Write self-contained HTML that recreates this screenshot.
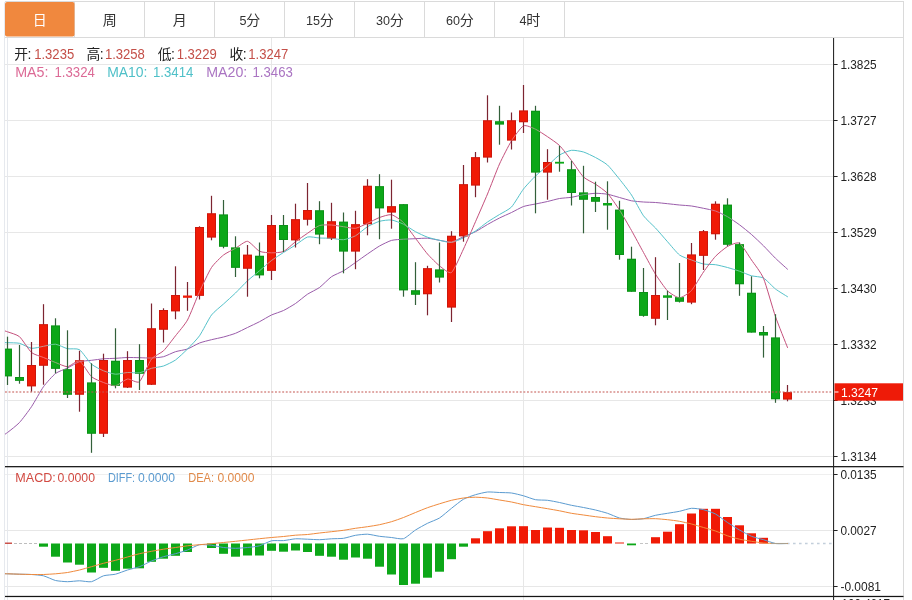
<!DOCTYPE html>
<html><head><meta charset="utf-8"><title>chart</title>
<style>html,body{margin:0;padding:0;background:#fff;}body{width:912px;height:600px;overflow:hidden;font-family:"Liberation Sans",sans-serif;}svg{display:block;will-change:transform}text{font-family:"Liberation Sans","Noto Sans CJK SC",sans-serif;}</style>
</head><body>
<svg width="912" height="600" viewBox="0 0 912 600">
<rect x="0" y="0" width="912" height="600" fill="#ffffff"/>
<g shape-rendering="crispEdges" stroke="#dadada" stroke-width="1" fill="none">
<path d="M4.5 1.5H903.5V600"/>
<path d="M4.5 600V1.5" stroke="#e6e9ee"/>
<path d="M4.5 37.5H903.5"/>
<path d="M74.5 1.5V37.5"/>
<path d="M144.5 1.5V37.5"/>
<path d="M214.5 1.5V37.5"/>
<path d="M284.5 1.5V37.5"/>
<path d="M354.5 1.5V37.5"/>
<path d="M424.5 1.5V37.5"/>
<path d="M494.5 1.5V37.5"/>
<path d="M564.5 1.5V37.5"/>
</g>
<rect x="5" y="2" width="69.5" height="34.6" rx="2" fill="#f0883e"/>
<text x="32.7" y="24.8" font-size="14" fill="#ffffff">日</text>
<text x="102.7" y="24.8" font-size="14" fill="#333333">周</text>
<text x="172.7" y="24.8" font-size="14" fill="#333333">月</text>
<text x="239.5" y="25" font-size="13" fill="#333333" textLength="7" lengthAdjust="spacingAndGlyphs">5</text>
<text x="246.2" y="24.8" font-size="14" fill="#333333">分</text>
<text x="306" y="25" font-size="13" fill="#333333" textLength="14" lengthAdjust="spacingAndGlyphs">15</text>
<text x="319.7" y="24.8" font-size="14" fill="#333333">分</text>
<text x="376" y="25" font-size="13" fill="#333333" textLength="14" lengthAdjust="spacingAndGlyphs">30</text>
<text x="389.7" y="24.8" font-size="14" fill="#333333">分</text>
<text x="446" y="25" font-size="13" fill="#333333" textLength="14" lengthAdjust="spacingAndGlyphs">60</text>
<text x="459.7" y="24.8" font-size="14" fill="#333333">分</text>
<text x="519.5" y="25" font-size="13" fill="#333333" textLength="7" lengthAdjust="spacingAndGlyphs">4</text>
<text x="526.2" y="24.8" font-size="14" fill="#333333">时</text>
<g shape-rendering="crispEdges" stroke="#e7e7e7" stroke-width="1" fill="none">
<path d="M5 64.5H833"/>
<path d="M5 120.5H833"/>
<path d="M5 176.5H833"/>
<path d="M5 232.5H833"/>
<path d="M5 288.5H833"/>
<path d="M5 344.5H833"/>
<path d="M5 400.5H833"/>
<path d="M5 456.5H833"/>
<path d="M5 530.5H833"/>
<path d="M5 586.5H833"/>
<path d="M5 474.5H833" stroke="#efefef"/>
<path d="M271.5 38V600"/>
<path d="M523.5 38V600"/>
<path d="M7.5 38V600" stroke="#e6e9ee"/>
</g>
<defs><clipPath id="cp"><rect x="5" y="38" width="828" height="559"/></clipPath></defs>
<g clip-path="url(#cp)">
<path d="M-4.5 440.5C-3.3 439.7 5.1 434.3 7.5 432.5C9.9 430.7 17.1 425.08 19.5 422.5C21.9 419.92 29.1 410.28 31.5 406.7C33.9 403.12 41.1 390.02 43.5 386.7C45.9 383.38 53.1 375.37 55.5 373.5C57.9 371.63 65.1 369.18 67.5 368C69.9 366.82 77.1 362.47 79.5 361.7C81.9 360.93 89.1 360.59 91.5 360.3C93.9 360.01 101.1 359 103.5 358.8C105.9 358.6 113.1 358.43 115.5 358.3C117.9 358.17 125.1 357.56 127.5 357.5C129.9 357.44 137.1 357.65 139.5 357.7C141.9 357.75 149.1 358.1 151.5 358C153.9 357.9 161.1 357.33 163.5 356.7C165.9 356.07 173.1 352.47 175.5 351.7C177.9 350.93 185.1 349.87 187.5 349C189.9 348.13 197.1 343.93 199.5 343C201.9 342.07 209.1 340.3 211.5 339.7C213.9 339.1 221.1 337.64 223.5 337C225.9 336.36 233.1 334.25 235.5 333.3C237.9 332.35 245.1 328.66 247.5 327.5C249.9 326.34 257.1 322.95 259.5 321.7C261.9 320.45 269.1 316.12 271.5 315C273.9 313.88 281.1 311.65 283.5 310.5C285.9 309.35 293.1 305.13 295.5 303.5C297.9 301.87 305.1 295.8 307.5 294.2C309.9 292.6 317.1 289.25 319.5 287.5C321.9 285.75 329.1 278.37 331.5 276.7C333.9 275.03 341.1 272.22 343.5 270.8C345.9 269.38 353.1 264.18 355.5 262.5C357.9 260.82 365.1 255.65 367.5 254C369.9 252.35 377.1 247.36 379.5 246C381.9 244.64 389.1 241.08 391.5 240.4C393.9 239.72 401.1 239.37 403.5 239.2C405.9 239.03 413.1 238.8 415.5 238.7C417.9 238.6 425.1 238.04 427.5 238.2C429.9 238.36 437.1 239.92 439.5 240.3C441.9 240.68 449.1 242.36 451.5 242C453.9 241.64 461.1 237.73 463.5 236.7C465.9 235.67 473.1 232.92 475.5 231.7C477.9 230.48 485.1 225.87 487.5 224.5C489.9 223.13 497.1 219.2 499.5 218C501.9 216.8 509.1 213.65 511.5 212.5C513.9 211.35 521.1 207.35 523.5 206.5C525.9 205.65 533.1 204.5 535.5 204C537.9 203.5 545.1 202.05 547.5 201.5C549.9 200.95 557.1 198.92 559.5 198.5C561.9 198.08 569.1 197.68 571.5 197.3C573.9 196.92 581.1 195.1 583.5 194.7C585.9 194.3 593.1 193.35 595.5 193.3C597.9 193.25 605.1 193.78 607.5 194.2C609.9 194.62 617.1 196.84 619.5 197.5C621.9 198.16 629.1 200.35 631.5 200.8C633.9 201.25 641.1 201.83 643.5 202C645.9 202.17 653.1 202.33 655.5 202.5C657.9 202.67 665.1 203.45 667.5 203.7C669.9 203.95 677.1 204.77 679.5 205C681.9 205.23 689.1 205.67 691.5 206C693.9 206.33 701.1 207.8 703.5 208.3C705.9 208.8 713.1 210.16 715.5 211C717.9 211.84 725.1 215.32 727.5 216.7C729.9 218.08 737.1 223.02 739.5 224.8C741.9 226.58 749.1 232.4 751.5 234.5C753.9 236.6 761.1 243.42 763.5 245.8C765.9 248.18 773.1 255.96 775.5 258.3C777.9 260.64 786.3 268.11 787.5 269.2" fill="none" stroke="#9a5caa" stroke-width="1.0" stroke-linejoin="round" stroke-linecap="round"/>
<path d="M-4.5 342.22C-3.3 342.27 5.1 342.59 7.5 342.7C9.9 342.81 17.1 342.74 19.5 343.3C21.9 343.86 29.1 348 31.5 348.3C33.9 348.6 41.1 346.71 43.5 346.3C45.9 345.89 53.1 343.96 55.5 344.2C57.9 344.44 65.1 348.15 67.5 348.7C69.9 349.25 77.1 348.15 79.5 349.7C81.9 351.25 89.1 362.09 91.5 364.2C93.9 366.31 101.1 369.8 103.5 370.8C105.9 371.8 113.1 374.03 115.5 374.2C117.9 374.37 125.1 372.64 127.5 372.5C129.9 372.36 137.1 373.22 139.5 372.8C141.9 372.38 149.1 368.98 151.5 368.3C153.9 367.62 161.1 366.83 163.5 366C165.9 365.17 173.1 361.7 175.5 360C177.9 358.3 185.1 351.42 187.5 349C189.9 346.58 197.1 339.2 199.5 335.8C201.9 332.4 209.1 318.18 211.5 315C213.9 311.82 221.1 306.2 223.5 304C225.9 301.8 233.1 295.32 235.5 293C237.9 290.68 245.1 283.02 247.5 280.8C249.9 278.58 257.1 272.83 259.5 270.8C261.9 268.77 269.1 262.33 271.5 260.5C273.9 258.67 281.1 254.05 283.5 252.5C285.9 250.95 293.1 246.55 295.5 245C297.9 243.45 305.1 237.7 307.5 237C309.9 236.3 317.1 237.87 319.5 238C321.9 238.13 329.1 238.13 331.5 238.3C333.9 238.47 341.1 239.95 343.5 239.7C345.9 239.45 353.1 237.1 355.5 235.8C357.9 234.5 365.1 228.15 367.5 226.7C369.9 225.25 377.1 221.97 379.5 221.3C381.9 220.63 389.1 219.71 391.5 220C393.9 220.29 401.1 223.03 403.5 224.2C405.9 225.37 413.1 230.4 415.5 231.7C417.9 233 425.1 236.34 427.5 237.2C429.9 238.06 437.1 239.77 439.5 240.3C441.9 240.83 449.1 242.75 451.5 242.5C453.9 242.25 461.1 238.95 463.5 237.8C465.9 236.65 473.1 232.58 475.5 231C477.9 229.42 485.1 223.65 487.5 222C489.9 220.35 497.1 216 499.5 214.5C501.9 213 509.1 209.55 511.5 207C513.9 204.45 521.1 192.1 523.5 189C525.9 185.9 533.1 178.32 535.5 176C537.9 173.68 545.1 167.9 547.5 165.8C549.9 163.7 557.1 156.55 559.5 155C561.9 153.45 569.1 150.6 571.5 150.3C573.9 150 581.1 151.28 583.5 152C585.9 152.72 593.1 156.2 595.5 157.5C597.9 158.8 605.1 162.83 607.5 165C609.9 167.17 617.1 176.2 619.5 179.2C621.9 182.2 629.1 191.34 631.5 195C633.9 198.66 641.1 212.5 643.5 215.8C645.9 219.1 653.1 225.41 655.5 228C657.9 230.59 665.1 239 667.5 241.7C669.9 244.4 677.1 253.17 679.5 255C681.9 256.83 689.1 259.1 691.5 260C693.9 260.9 701.1 263.53 703.5 264C705.9 264.47 713.1 264.35 715.5 264.7C717.9 265.05 725.1 266.85 727.5 267.5C729.9 268.15 737.1 270.37 739.5 271.2C741.9 272.03 749.1 275.12 751.5 275.8C753.9 276.48 761.1 276.68 763.5 278C765.9 279.32 773.1 287.13 775.5 289C777.9 290.87 786.3 295.93 787.5 296.7" fill="none" stroke="#55c2ca" stroke-width="1.0" stroke-linejoin="round" stroke-linecap="round"/>
<path d="M-4.5 327.88C-3.3 328.27 5.1 330.92 7.5 331.8C9.9 332.68 17.1 334.63 19.5 336.7C21.9 338.77 29.1 350.42 31.5 352.5C33.9 354.58 41.1 356.5 43.5 357.5C45.9 358.5 53.1 361.58 55.5 362.5C57.9 363.42 65.1 366.85 67.5 366.7C69.9 366.55 77.1 360 79.5 361C81.9 362 89.1 374.55 91.5 376.7C93.9 378.85 101.1 381.59 103.5 382.5C105.9 383.41 113.1 386.15 115.5 385.8C117.9 385.45 125.1 379.41 127.5 379C129.9 378.59 137.1 383.7 139.5 381.7C141.9 379.7 149.1 362.09 151.5 359C153.9 355.91 161.1 353.12 163.5 350.8C165.9 348.48 173.1 338.88 175.5 335.8C177.9 332.72 185.1 324.41 187.5 320C189.9 315.59 197.1 296.95 199.5 291.7C201.9 286.45 209.1 271.17 211.5 267.5C213.9 263.83 221.1 256.92 223.5 255C225.9 253.08 233.1 249.67 235.5 248.3C237.9 246.93 245.1 241 247.5 241.3C249.9 241.6 257.1 250.15 259.5 251.3C261.9 252.45 269.1 252.78 271.5 252.8C273.9 252.82 281.1 252.61 283.5 251.5C285.9 250.39 293.1 243.52 295.5 241.7C297.9 239.88 305.1 234.92 307.5 233.3C309.9 231.68 317.1 226.33 319.5 225.5C321.9 224.67 329.1 224.88 331.5 225C333.9 225.12 341.1 226.37 343.5 226.7C345.9 227.03 353.1 228.64 355.5 228.3C357.9 227.96 365.1 224.38 367.5 223.3C369.9 222.22 377.1 218.36 379.5 217.5C381.9 216.64 389.1 214.2 391.5 214.7C393.9 215.2 401.1 220.14 403.5 222.5C405.9 224.86 413.1 235.15 415.5 238.3C417.9 241.45 425.1 251.25 427.5 254C429.9 256.75 437.1 263.95 439.5 265.8C441.9 267.65 449.1 274.18 451.5 272.5C453.9 270.82 461.1 254.08 463.5 249C465.9 243.92 473.1 227.2 475.5 221.7C477.9 216.2 485.1 199.77 487.5 194C489.9 188.23 497.1 169.32 499.5 164C501.9 158.68 509.1 144.62 511.5 140.8C513.9 136.98 521.1 126.96 523.5 125.8C525.9 124.64 533.1 128.11 535.5 129.2C537.9 130.29 545.1 135.07 547.5 136.7C549.9 138.33 557.1 143.12 559.5 145.5C561.9 147.88 569.1 157.35 571.5 160.5C573.9 163.65 581.1 174.63 583.5 177C585.9 179.37 593.1 182.57 595.5 184.2C597.9 185.83 605.1 190.72 607.5 193.3C609.9 195.88 617.1 206.28 619.5 210C621.9 213.72 629.1 226.25 631.5 230.5C633.9 234.75 641.1 248.13 643.5 252.5C645.9 256.87 653.1 270.37 655.5 274.2C657.9 278.03 665.1 288.44 667.5 290.8C669.9 293.16 677.1 297.83 679.5 297.8C681.9 297.77 689.1 293.08 691.5 290.5C693.9 287.92 701.1 275.42 703.5 272C705.9 268.58 713.1 258.85 715.5 256.3C717.9 253.75 725.1 247.81 727.5 246.5C729.9 245.19 737.1 241.85 739.5 243.2C741.9 244.55 749.1 256.49 751.5 260C753.9 263.51 761.1 272.63 763.5 278.3C765.9 283.97 773.1 309.78 775.5 316.7C777.9 323.62 786.3 344.42 787.5 347.5" fill="none" stroke="#c4507c" stroke-width="1.0" stroke-linejoin="round" stroke-linecap="round"/>
<rect x="6.9" y="336.7" width="1.2" height="48.3" fill="#33603a"/>
<rect x="3" y="348.7" width="9" height="27.6" fill="#0ca718"/>
<rect x="3.5" y="349.2" width="8" height="26.6" fill="none" stroke="#0b7f16" stroke-opacity="0.55" stroke-width="1"/>
<rect x="18.9" y="345" width="1.2" height="38.7" fill="#33603a"/>
<rect x="15" y="377" width="9" height="3.8" fill="#0ca718"/>
<rect x="15.5" y="377.5" width="8" height="2.8" fill="none" stroke="#0b7f16" stroke-opacity="0.55" stroke-width="1"/>
<rect x="30.9" y="342" width="1.2" height="49.7" fill="#7c2430"/>
<rect x="27" y="365" width="9" height="21.3" fill="#f01a06"/>
<rect x="27.5" y="365.5" width="8" height="20.3" fill="none" stroke="#b01410" stroke-opacity="0.55" stroke-width="1"/>
<rect x="42.9" y="304.2" width="1.2" height="80.5" fill="#7c2430"/>
<rect x="39" y="324.2" width="9" height="41.5" fill="#f01a06"/>
<rect x="39.5" y="324.7" width="8" height="40.5" fill="none" stroke="#b01410" stroke-opacity="0.55" stroke-width="1"/>
<rect x="54.9" y="318.3" width="1.2" height="55" fill="#33603a"/>
<rect x="51" y="325.5" width="9" height="43.3" fill="#0ca718"/>
<rect x="51.5" y="326" width="8" height="42.3" fill="none" stroke="#0b7f16" stroke-opacity="0.55" stroke-width="1"/>
<rect x="66.9" y="330.3" width="1.2" height="67.7" fill="#33603a"/>
<rect x="63" y="369.2" width="9" height="25.5" fill="#0ca718"/>
<rect x="63.5" y="369.7" width="8" height="24.5" fill="none" stroke="#0b7f16" stroke-opacity="0.55" stroke-width="1"/>
<rect x="78.9" y="350.8" width="1.2" height="60.9" fill="#7c2430"/>
<rect x="75" y="360.3" width="9" height="34.4" fill="#f01a06"/>
<rect x="75.5" y="360.8" width="8" height="33.4" fill="none" stroke="#b01410" stroke-opacity="0.55" stroke-width="1"/>
<rect x="90.9" y="363.3" width="1.2" height="89.5" fill="#33603a"/>
<rect x="87" y="382.5" width="9" height="51.2" fill="#0ca718"/>
<rect x="87.5" y="383" width="8" height="50.2" fill="none" stroke="#0b7f16" stroke-opacity="0.55" stroke-width="1"/>
<rect x="102.9" y="353.7" width="1.2" height="83.3" fill="#7c2430"/>
<rect x="99" y="360" width="9" height="73.7" fill="#f01a06"/>
<rect x="99.5" y="360.5" width="8" height="72.7" fill="none" stroke="#b01410" stroke-opacity="0.55" stroke-width="1"/>
<rect x="114.9" y="328.3" width="1.2" height="60" fill="#33603a"/>
<rect x="111" y="360.8" width="9" height="25" fill="#0ca718"/>
<rect x="111.5" y="361.3" width="8" height="24" fill="none" stroke="#0b7f16" stroke-opacity="0.55" stroke-width="1"/>
<rect x="126.9" y="351.2" width="1.2" height="36.8" fill="#7c2430"/>
<rect x="123" y="360" width="9" height="27.5" fill="#f01a06"/>
<rect x="123.5" y="360.5" width="8" height="26.5" fill="none" stroke="#b01410" stroke-opacity="0.55" stroke-width="1"/>
<rect x="138.9" y="344.2" width="1.2" height="45.8" fill="#33603a"/>
<rect x="135" y="360" width="9" height="13.7" fill="#0ca718"/>
<rect x="135.5" y="360.5" width="8" height="12.7" fill="none" stroke="#0b7f16" stroke-opacity="0.55" stroke-width="1"/>
<rect x="150.9" y="303.5" width="1.2" height="81.5" fill="#7c2430"/>
<rect x="147" y="328.3" width="9" height="56.4" fill="#f01a06"/>
<rect x="147.5" y="328.8" width="8" height="55.4" fill="none" stroke="#b01410" stroke-opacity="0.55" stroke-width="1"/>
<rect x="162.9" y="308.3" width="1.2" height="34.2" fill="#7c2430"/>
<rect x="159" y="310" width="9" height="19.7" fill="#f01a06"/>
<rect x="159.5" y="310.5" width="8" height="18.7" fill="none" stroke="#b01410" stroke-opacity="0.55" stroke-width="1"/>
<rect x="174.9" y="266.3" width="1.2" height="52.9" fill="#7c2430"/>
<rect x="171" y="295" width="9" height="16.3" fill="#f01a06"/>
<rect x="171.5" y="295.5" width="8" height="15.3" fill="none" stroke="#b01410" stroke-opacity="0.55" stroke-width="1"/>
<rect x="186.9" y="282" width="1.2" height="28.8" fill="#7c2430"/>
<rect x="183" y="295.5" width="9" height="2.3" fill="#f01a06"/>
<rect x="198.9" y="226.3" width="1.2" height="73.2" fill="#7c2430"/>
<rect x="195" y="227" width="9" height="68.8" fill="#f01a06"/>
<rect x="195.5" y="227.5" width="8" height="67.8" fill="none" stroke="#b01410" stroke-opacity="0.55" stroke-width="1"/>
<rect x="210.9" y="195.8" width="1.2" height="44.5" fill="#7c2430"/>
<rect x="207" y="213.3" width="9" height="24.2" fill="#f01a06"/>
<rect x="207.5" y="213.8" width="8" height="23.2" fill="none" stroke="#b01410" stroke-opacity="0.55" stroke-width="1"/>
<rect x="222.9" y="200" width="1.2" height="48.3" fill="#33603a"/>
<rect x="219" y="214.5" width="9" height="32.2" fill="#0ca718"/>
<rect x="219.5" y="215" width="8" height="31.2" fill="none" stroke="#0b7f16" stroke-opacity="0.55" stroke-width="1"/>
<rect x="234.9" y="236.3" width="1.2" height="40.7" fill="#33603a"/>
<rect x="231" y="247.5" width="9" height="20.3" fill="#0ca718"/>
<rect x="231.5" y="248" width="8" height="19.3" fill="none" stroke="#0b7f16" stroke-opacity="0.55" stroke-width="1"/>
<rect x="246.9" y="245" width="1.2" height="51.7" fill="#7c2430"/>
<rect x="243" y="254.7" width="9" height="14" fill="#f01a06"/>
<rect x="243.5" y="255.2" width="8" height="13" fill="none" stroke="#b01410" stroke-opacity="0.55" stroke-width="1"/>
<rect x="258.9" y="242.5" width="1.2" height="35.8" fill="#33603a"/>
<rect x="255" y="255.8" width="9" height="19.5" fill="#0ca718"/>
<rect x="255.5" y="256.3" width="8" height="18.5" fill="none" stroke="#0b7f16" stroke-opacity="0.55" stroke-width="1"/>
<rect x="270.9" y="215" width="1.2" height="65" fill="#7c2430"/>
<rect x="267" y="225" width="9" height="45.8" fill="#f01a06"/>
<rect x="267.5" y="225.5" width="8" height="44.8" fill="none" stroke="#b01410" stroke-opacity="0.55" stroke-width="1"/>
<rect x="282.9" y="215" width="1.2" height="37" fill="#33603a"/>
<rect x="279" y="225" width="9" height="15" fill="#0ca718"/>
<rect x="279.5" y="225.5" width="8" height="14" fill="none" stroke="#0b7f16" stroke-opacity="0.55" stroke-width="1"/>
<rect x="294.9" y="203.7" width="1.2" height="43.8" fill="#7c2430"/>
<rect x="291" y="219.2" width="9" height="21.1" fill="#f01a06"/>
<rect x="291.5" y="219.7" width="8" height="20.1" fill="none" stroke="#b01410" stroke-opacity="0.55" stroke-width="1"/>
<rect x="306.9" y="183" width="1.2" height="42.5" fill="#7c2430"/>
<rect x="303" y="210" width="9" height="9.7" fill="#f01a06"/>
<rect x="303.5" y="210.5" width="8" height="8.7" fill="none" stroke="#b01410" stroke-opacity="0.55" stroke-width="1"/>
<rect x="318.9" y="201.2" width="1.2" height="43" fill="#33603a"/>
<rect x="315" y="210.3" width="9" height="24.2" fill="#0ca718"/>
<rect x="315.5" y="210.8" width="8" height="23.2" fill="none" stroke="#0b7f16" stroke-opacity="0.55" stroke-width="1"/>
<rect x="330.9" y="202.8" width="1.2" height="37.2" fill="#7c2430"/>
<rect x="327" y="221.3" width="9" height="17" fill="#f01a06"/>
<rect x="327.5" y="221.8" width="8" height="16" fill="none" stroke="#b01410" stroke-opacity="0.55" stroke-width="1"/>
<rect x="342.9" y="212.5" width="1.2" height="60.8" fill="#33603a"/>
<rect x="339" y="221.7" width="9" height="29.8" fill="#0ca718"/>
<rect x="339.5" y="222.2" width="8" height="28.8" fill="none" stroke="#0b7f16" stroke-opacity="0.55" stroke-width="1"/>
<rect x="354.9" y="210.8" width="1.2" height="58.4" fill="#7c2430"/>
<rect x="351" y="224.2" width="9" height="27.3" fill="#f01a06"/>
<rect x="351.5" y="224.7" width="8" height="26.3" fill="none" stroke="#b01410" stroke-opacity="0.55" stroke-width="1"/>
<rect x="366.9" y="179.2" width="1.2" height="56.1" fill="#7c2430"/>
<rect x="363" y="185.8" width="9" height="38.4" fill="#f01a06"/>
<rect x="363.5" y="186.3" width="8" height="37.4" fill="none" stroke="#b01410" stroke-opacity="0.55" stroke-width="1"/>
<rect x="378.9" y="174.2" width="1.2" height="65" fill="#33603a"/>
<rect x="375" y="186.2" width="9" height="22.1" fill="#0ca718"/>
<rect x="375.5" y="186.7" width="8" height="21.1" fill="none" stroke="#0b7f16" stroke-opacity="0.55" stroke-width="1"/>
<rect x="390.9" y="179.7" width="1.2" height="49" fill="#7c2430"/>
<rect x="387" y="206.2" width="9" height="6.3" fill="#f01a06"/>
<rect x="387.5" y="206.7" width="8" height="5.3" fill="none" stroke="#b01410" stroke-opacity="0.55" stroke-width="1"/>
<rect x="402.9" y="204.2" width="1.2" height="92.5" fill="#33603a"/>
<rect x="399" y="204.2" width="9" height="86.1" fill="#0ca718"/>
<rect x="399.5" y="204.7" width="8" height="85.1" fill="none" stroke="#0b7f16" stroke-opacity="0.55" stroke-width="1"/>
<rect x="414.9" y="262.2" width="1.2" height="42.8" fill="#33603a"/>
<rect x="411" y="290.3" width="9" height="4.4" fill="#0ca718"/>
<rect x="411.5" y="290.8" width="8" height="3.4" fill="none" stroke="#0b7f16" stroke-opacity="0.55" stroke-width="1"/>
<rect x="426.9" y="265.8" width="1.2" height="49.5" fill="#7c2430"/>
<rect x="423" y="268.2" width="9" height="26" fill="#f01a06"/>
<rect x="423.5" y="268.7" width="8" height="25" fill="none" stroke="#b01410" stroke-opacity="0.55" stroke-width="1"/>
<rect x="438.9" y="242.5" width="1.2" height="40" fill="#33603a"/>
<rect x="435" y="269.5" width="9" height="8" fill="#0ca718"/>
<rect x="435.5" y="270" width="8" height="7" fill="none" stroke="#0b7f16" stroke-opacity="0.55" stroke-width="1"/>
<rect x="450.9" y="231.2" width="1.2" height="90.8" fill="#7c2430"/>
<rect x="447" y="235.8" width="9" height="71.7" fill="#f01a06"/>
<rect x="447.5" y="236.3" width="8" height="70.7" fill="none" stroke="#b01410" stroke-opacity="0.55" stroke-width="1"/>
<rect x="462.9" y="165" width="1.2" height="76.7" fill="#7c2430"/>
<rect x="459" y="184.2" width="9" height="52.1" fill="#f01a06"/>
<rect x="459.5" y="184.7" width="8" height="51.1" fill="none" stroke="#b01410" stroke-opacity="0.55" stroke-width="1"/>
<rect x="474.9" y="152" width="1.2" height="45.2" fill="#7c2430"/>
<rect x="471" y="157.2" width="9" height="28.3" fill="#f01a06"/>
<rect x="471.5" y="157.7" width="8" height="27.3" fill="none" stroke="#b01410" stroke-opacity="0.55" stroke-width="1"/>
<rect x="486.9" y="95.3" width="1.2" height="67.2" fill="#7c2430"/>
<rect x="483" y="120.3" width="9" height="37.2" fill="#f01a06"/>
<rect x="483.5" y="120.8" width="8" height="36.2" fill="none" stroke="#b01410" stroke-opacity="0.55" stroke-width="1"/>
<rect x="498.9" y="105.8" width="1.2" height="38.9" fill="#33603a"/>
<rect x="495" y="121.3" width="9" height="3.2" fill="#0ca718"/>
<rect x="495.5" y="121.8" width="8" height="2.2" fill="none" stroke="#0b7f16" stroke-opacity="0.55" stroke-width="1"/>
<rect x="510.9" y="112.5" width="1.2" height="37" fill="#7c2430"/>
<rect x="507" y="120.3" width="9" height="20.2" fill="#f01a06"/>
<rect x="507.5" y="120.8" width="8" height="19.2" fill="none" stroke="#b01410" stroke-opacity="0.55" stroke-width="1"/>
<rect x="522.9" y="85" width="1.2" height="48" fill="#7c2430"/>
<rect x="519" y="110.5" width="9" height="11.7" fill="#f01a06"/>
<rect x="519.5" y="111" width="8" height="10.7" fill="none" stroke="#b01410" stroke-opacity="0.55" stroke-width="1"/>
<rect x="534.9" y="105.8" width="1.2" height="107.5" fill="#33603a"/>
<rect x="531" y="110.8" width="9" height="61.7" fill="#0ca718"/>
<rect x="531.5" y="111.3" width="8" height="60.7" fill="none" stroke="#0b7f16" stroke-opacity="0.55" stroke-width="1"/>
<rect x="546.9" y="149.2" width="1.2" height="50.5" fill="#7c2430"/>
<rect x="543" y="162" width="9" height="10.5" fill="#f01a06"/>
<rect x="543.5" y="162.5" width="8" height="9.5" fill="none" stroke="#b01410" stroke-opacity="0.55" stroke-width="1"/>
<rect x="558.9" y="145.8" width="1.2" height="25.9" fill="#33603a"/>
<rect x="555" y="161.8" width="9" height="1.8" fill="#0ca718"/>
<rect x="570.9" y="160.8" width="1.2" height="44.7" fill="#33603a"/>
<rect x="567" y="169.3" width="9" height="23.7" fill="#0ca718"/>
<rect x="567.5" y="169.8" width="8" height="22.7" fill="none" stroke="#0b7f16" stroke-opacity="0.55" stroke-width="1"/>
<rect x="582.9" y="165.8" width="1.2" height="67.5" fill="#33603a"/>
<rect x="579" y="192.5" width="9" height="7.2" fill="#0ca718"/>
<rect x="579.5" y="193" width="8" height="6.2" fill="none" stroke="#0b7f16" stroke-opacity="0.55" stroke-width="1"/>
<rect x="594.9" y="181.7" width="1.2" height="30.3" fill="#33603a"/>
<rect x="591" y="197" width="9" height="4.7" fill="#0ca718"/>
<rect x="591.5" y="197.5" width="8" height="3.7" fill="none" stroke="#0b7f16" stroke-opacity="0.55" stroke-width="1"/>
<rect x="606.9" y="181.3" width="1.2" height="48.4" fill="#33603a"/>
<rect x="603" y="203" width="9" height="2.5" fill="#0ca718"/>
<rect x="618.9" y="200.8" width="1.2" height="58.9" fill="#33603a"/>
<rect x="615" y="209.7" width="9" height="45.3" fill="#0ca718"/>
<rect x="615.5" y="210.2" width="8" height="44.3" fill="none" stroke="#0b7f16" stroke-opacity="0.55" stroke-width="1"/>
<rect x="630.9" y="246.7" width="1.2" height="45" fill="#33603a"/>
<rect x="627" y="258.8" width="9" height="32.9" fill="#0ca718"/>
<rect x="627.5" y="259.3" width="8" height="31.9" fill="none" stroke="#0b7f16" stroke-opacity="0.55" stroke-width="1"/>
<rect x="642.9" y="268" width="1.2" height="48.7" fill="#33603a"/>
<rect x="639" y="292" width="9" height="23.8" fill="#0ca718"/>
<rect x="639.5" y="292.5" width="8" height="22.8" fill="none" stroke="#0b7f16" stroke-opacity="0.55" stroke-width="1"/>
<rect x="654.9" y="257.2" width="1.2" height="68.1" fill="#7c2430"/>
<rect x="651" y="295" width="9" height="23.7" fill="#f01a06"/>
<rect x="651.5" y="295.5" width="8" height="22.7" fill="none" stroke="#b01410" stroke-opacity="0.55" stroke-width="1"/>
<rect x="666.9" y="290.8" width="1.2" height="29.2" fill="#33603a"/>
<rect x="663" y="295.3" width="9" height="2.5" fill="#0ca718"/>
<rect x="678.9" y="263" width="1.2" height="39.5" fill="#33603a"/>
<rect x="675" y="297.2" width="9" height="4.5" fill="#0ca718"/>
<rect x="675.5" y="297.7" width="8" height="3.5" fill="none" stroke="#0b7f16" stroke-opacity="0.55" stroke-width="1"/>
<rect x="690.9" y="243" width="1.2" height="61.2" fill="#7c2430"/>
<rect x="687" y="254.5" width="9" height="48" fill="#f01a06"/>
<rect x="687.5" y="255" width="8" height="47" fill="none" stroke="#b01410" stroke-opacity="0.55" stroke-width="1"/>
<rect x="702.9" y="230" width="1.2" height="40" fill="#7c2430"/>
<rect x="699" y="231.2" width="9" height="24.6" fill="#f01a06"/>
<rect x="699.5" y="231.7" width="8" height="23.6" fill="none" stroke="#b01410" stroke-opacity="0.55" stroke-width="1"/>
<rect x="714.9" y="201.3" width="1.2" height="38.4" fill="#7c2430"/>
<rect x="711" y="203.8" width="9" height="30.4" fill="#f01a06"/>
<rect x="711.5" y="204.3" width="8" height="29.4" fill="none" stroke="#b01410" stroke-opacity="0.55" stroke-width="1"/>
<rect x="726.9" y="198.3" width="1.2" height="48" fill="#33603a"/>
<rect x="723" y="204.7" width="9" height="40" fill="#0ca718"/>
<rect x="723.5" y="205.2" width="8" height="39" fill="none" stroke="#0b7f16" stroke-opacity="0.55" stroke-width="1"/>
<rect x="738.9" y="242.5" width="1.2" height="53.3" fill="#33603a"/>
<rect x="735" y="244.2" width="9" height="40" fill="#0ca718"/>
<rect x="735.5" y="244.7" width="8" height="39" fill="none" stroke="#0b7f16" stroke-opacity="0.55" stroke-width="1"/>
<rect x="750.9" y="276.3" width="1.2" height="56.2" fill="#33603a"/>
<rect x="747" y="292.8" width="9" height="39.7" fill="#0ca718"/>
<rect x="747.5" y="293.3" width="8" height="38.7" fill="none" stroke="#0b7f16" stroke-opacity="0.55" stroke-width="1"/>
<rect x="762.9" y="326" width="1.2" height="31.6" fill="#33603a"/>
<rect x="759" y="332" width="9" height="3.4" fill="#0ca718"/>
<rect x="759.5" y="332.5" width="8" height="2.4" fill="none" stroke="#0b7f16" stroke-opacity="0.55" stroke-width="1"/>
<rect x="774.9" y="314.2" width="1.2" height="88.6" fill="#33603a"/>
<rect x="771" y="337.5" width="9" height="61.7" fill="#0ca718"/>
<rect x="771.5" y="338" width="8" height="60.7" fill="none" stroke="#0b7f16" stroke-opacity="0.55" stroke-width="1"/>
<rect x="786.9" y="385" width="1.2" height="16.3" fill="#7c2430"/>
<rect x="783" y="392.2" width="9" height="7.3" fill="#f01a06"/>
<rect x="783.5" y="392.7" width="8" height="6.3" fill="none" stroke="#b01410" stroke-opacity="0.55" stroke-width="1"/>
<clipPath id="bd"><rect x="3" y="348.7" width="9" height="27.6"/><rect x="15" y="377" width="9" height="3.8"/><rect x="27" y="365" width="9" height="21.3"/><rect x="39" y="324.2" width="9" height="41.5"/><rect x="51" y="325.5" width="9" height="43.3"/><rect x="63" y="369.2" width="9" height="25.5"/><rect x="75" y="360.3" width="9" height="34.4"/><rect x="87" y="382.5" width="9" height="51.2"/><rect x="99" y="360" width="9" height="73.7"/><rect x="111" y="360.8" width="9" height="25"/><rect x="123" y="360" width="9" height="27.5"/><rect x="135" y="360" width="9" height="13.7"/><rect x="147" y="328.3" width="9" height="56.4"/><rect x="159" y="310" width="9" height="19.7"/><rect x="171" y="295" width="9" height="16.3"/><rect x="183" y="295.5" width="9" height="2.3"/><rect x="195" y="227" width="9" height="68.8"/><rect x="207" y="213.3" width="9" height="24.2"/><rect x="219" y="214.5" width="9" height="32.2"/><rect x="231" y="247.5" width="9" height="20.3"/><rect x="243" y="254.7" width="9" height="14"/><rect x="255" y="255.8" width="9" height="19.5"/><rect x="267" y="225" width="9" height="45.8"/><rect x="279" y="225" width="9" height="15"/><rect x="291" y="219.2" width="9" height="21.1"/><rect x="303" y="210" width="9" height="9.7"/><rect x="315" y="210.3" width="9" height="24.2"/><rect x="327" y="221.3" width="9" height="17"/><rect x="339" y="221.7" width="9" height="29.8"/><rect x="351" y="224.2" width="9" height="27.3"/><rect x="363" y="185.8" width="9" height="38.4"/><rect x="375" y="186.2" width="9" height="22.1"/><rect x="387" y="206.2" width="9" height="6.3"/><rect x="399" y="204.2" width="9" height="86.1"/><rect x="411" y="290.3" width="9" height="4.4"/><rect x="423" y="268.2" width="9" height="26"/><rect x="435" y="269.5" width="9" height="8"/><rect x="447" y="235.8" width="9" height="71.7"/><rect x="459" y="184.2" width="9" height="52.1"/><rect x="471" y="157.2" width="9" height="28.3"/><rect x="483" y="120.3" width="9" height="37.2"/><rect x="495" y="121.3" width="9" height="3.2"/><rect x="507" y="120.3" width="9" height="20.2"/><rect x="519" y="110.5" width="9" height="11.7"/><rect x="531" y="110.8" width="9" height="61.7"/><rect x="543" y="162" width="9" height="10.5"/><rect x="555" y="161.8" width="9" height="1.8"/><rect x="567" y="169.3" width="9" height="23.7"/><rect x="579" y="192.5" width="9" height="7.2"/><rect x="591" y="197" width="9" height="4.7"/><rect x="603" y="203" width="9" height="2.5"/><rect x="615" y="209.7" width="9" height="45.3"/><rect x="627" y="258.8" width="9" height="32.9"/><rect x="639" y="292" width="9" height="23.8"/><rect x="651" y="295" width="9" height="23.7"/><rect x="663" y="295.3" width="9" height="2.5"/><rect x="675" y="297.2" width="9" height="4.5"/><rect x="687" y="254.5" width="9" height="48"/><rect x="699" y="231.2" width="9" height="24.6"/><rect x="711" y="203.8" width="9" height="30.4"/><rect x="723" y="204.7" width="9" height="40"/><rect x="735" y="244.2" width="9" height="40"/><rect x="747" y="292.8" width="9" height="39.7"/><rect x="759" y="332" width="9" height="3.4"/><rect x="771" y="337.5" width="9" height="61.7"/><rect x="783" y="392.2" width="9" height="7.3"/></clipPath>
<g clip-path="url(#bd)" opacity="0.6">
<path d="M-4.5 440.5C-3.3 439.7 5.1 434.3 7.5 432.5C9.9 430.7 17.1 425.08 19.5 422.5C21.9 419.92 29.1 410.28 31.5 406.7C33.9 403.12 41.1 390.02 43.5 386.7C45.9 383.38 53.1 375.37 55.5 373.5C57.9 371.63 65.1 369.18 67.5 368C69.9 366.82 77.1 362.47 79.5 361.7C81.9 360.93 89.1 360.59 91.5 360.3C93.9 360.01 101.1 359 103.5 358.8C105.9 358.6 113.1 358.43 115.5 358.3C117.9 358.17 125.1 357.56 127.5 357.5C129.9 357.44 137.1 357.65 139.5 357.7C141.9 357.75 149.1 358.1 151.5 358C153.9 357.9 161.1 357.33 163.5 356.7C165.9 356.07 173.1 352.47 175.5 351.7C177.9 350.93 185.1 349.87 187.5 349C189.9 348.13 197.1 343.93 199.5 343C201.9 342.07 209.1 340.3 211.5 339.7C213.9 339.1 221.1 337.64 223.5 337C225.9 336.36 233.1 334.25 235.5 333.3C237.9 332.35 245.1 328.66 247.5 327.5C249.9 326.34 257.1 322.95 259.5 321.7C261.9 320.45 269.1 316.12 271.5 315C273.9 313.88 281.1 311.65 283.5 310.5C285.9 309.35 293.1 305.13 295.5 303.5C297.9 301.87 305.1 295.8 307.5 294.2C309.9 292.6 317.1 289.25 319.5 287.5C321.9 285.75 329.1 278.37 331.5 276.7C333.9 275.03 341.1 272.22 343.5 270.8C345.9 269.38 353.1 264.18 355.5 262.5C357.9 260.82 365.1 255.65 367.5 254C369.9 252.35 377.1 247.36 379.5 246C381.9 244.64 389.1 241.08 391.5 240.4C393.9 239.72 401.1 239.37 403.5 239.2C405.9 239.03 413.1 238.8 415.5 238.7C417.9 238.6 425.1 238.04 427.5 238.2C429.9 238.36 437.1 239.92 439.5 240.3C441.9 240.68 449.1 242.36 451.5 242C453.9 241.64 461.1 237.73 463.5 236.7C465.9 235.67 473.1 232.92 475.5 231.7C477.9 230.48 485.1 225.87 487.5 224.5C489.9 223.13 497.1 219.2 499.5 218C501.9 216.8 509.1 213.65 511.5 212.5C513.9 211.35 521.1 207.35 523.5 206.5C525.9 205.65 533.1 204.5 535.5 204C537.9 203.5 545.1 202.05 547.5 201.5C549.9 200.95 557.1 198.92 559.5 198.5C561.9 198.08 569.1 197.68 571.5 197.3C573.9 196.92 581.1 195.1 583.5 194.7C585.9 194.3 593.1 193.35 595.5 193.3C597.9 193.25 605.1 193.78 607.5 194.2C609.9 194.62 617.1 196.84 619.5 197.5C621.9 198.16 629.1 200.35 631.5 200.8C633.9 201.25 641.1 201.83 643.5 202C645.9 202.17 653.1 202.33 655.5 202.5C657.9 202.67 665.1 203.45 667.5 203.7C669.9 203.95 677.1 204.77 679.5 205C681.9 205.23 689.1 205.67 691.5 206C693.9 206.33 701.1 207.8 703.5 208.3C705.9 208.8 713.1 210.16 715.5 211C717.9 211.84 725.1 215.32 727.5 216.7C729.9 218.08 737.1 223.02 739.5 224.8C741.9 226.58 749.1 232.4 751.5 234.5C753.9 236.6 761.1 243.42 763.5 245.8C765.9 248.18 773.1 255.96 775.5 258.3C777.9 260.64 786.3 268.11 787.5 269.2" fill="none" stroke="#c9a6d6" stroke-width="1.0" stroke-linejoin="round" stroke-linecap="round"/>
<path d="M-4.5 342.22C-3.3 342.27 5.1 342.59 7.5 342.7C9.9 342.81 17.1 342.74 19.5 343.3C21.9 343.86 29.1 348 31.5 348.3C33.9 348.6 41.1 346.71 43.5 346.3C45.9 345.89 53.1 343.96 55.5 344.2C57.9 344.44 65.1 348.15 67.5 348.7C69.9 349.25 77.1 348.15 79.5 349.7C81.9 351.25 89.1 362.09 91.5 364.2C93.9 366.31 101.1 369.8 103.5 370.8C105.9 371.8 113.1 374.03 115.5 374.2C117.9 374.37 125.1 372.64 127.5 372.5C129.9 372.36 137.1 373.22 139.5 372.8C141.9 372.38 149.1 368.98 151.5 368.3C153.9 367.62 161.1 366.83 163.5 366C165.9 365.17 173.1 361.7 175.5 360C177.9 358.3 185.1 351.42 187.5 349C189.9 346.58 197.1 339.2 199.5 335.8C201.9 332.4 209.1 318.18 211.5 315C213.9 311.82 221.1 306.2 223.5 304C225.9 301.8 233.1 295.32 235.5 293C237.9 290.68 245.1 283.02 247.5 280.8C249.9 278.58 257.1 272.83 259.5 270.8C261.9 268.77 269.1 262.33 271.5 260.5C273.9 258.67 281.1 254.05 283.5 252.5C285.9 250.95 293.1 246.55 295.5 245C297.9 243.45 305.1 237.7 307.5 237C309.9 236.3 317.1 237.87 319.5 238C321.9 238.13 329.1 238.13 331.5 238.3C333.9 238.47 341.1 239.95 343.5 239.7C345.9 239.45 353.1 237.1 355.5 235.8C357.9 234.5 365.1 228.15 367.5 226.7C369.9 225.25 377.1 221.97 379.5 221.3C381.9 220.63 389.1 219.71 391.5 220C393.9 220.29 401.1 223.03 403.5 224.2C405.9 225.37 413.1 230.4 415.5 231.7C417.9 233 425.1 236.34 427.5 237.2C429.9 238.06 437.1 239.77 439.5 240.3C441.9 240.83 449.1 242.75 451.5 242.5C453.9 242.25 461.1 238.95 463.5 237.8C465.9 236.65 473.1 232.58 475.5 231C477.9 229.42 485.1 223.65 487.5 222C489.9 220.35 497.1 216 499.5 214.5C501.9 213 509.1 209.55 511.5 207C513.9 204.45 521.1 192.1 523.5 189C525.9 185.9 533.1 178.32 535.5 176C537.9 173.68 545.1 167.9 547.5 165.8C549.9 163.7 557.1 156.55 559.5 155C561.9 153.45 569.1 150.6 571.5 150.3C573.9 150 581.1 151.28 583.5 152C585.9 152.72 593.1 156.2 595.5 157.5C597.9 158.8 605.1 162.83 607.5 165C609.9 167.17 617.1 176.2 619.5 179.2C621.9 182.2 629.1 191.34 631.5 195C633.9 198.66 641.1 212.5 643.5 215.8C645.9 219.1 653.1 225.41 655.5 228C657.9 230.59 665.1 239 667.5 241.7C669.9 244.4 677.1 253.17 679.5 255C681.9 256.83 689.1 259.1 691.5 260C693.9 260.9 701.1 263.53 703.5 264C705.9 264.47 713.1 264.35 715.5 264.7C717.9 265.05 725.1 266.85 727.5 267.5C729.9 268.15 737.1 270.37 739.5 271.2C741.9 272.03 749.1 275.12 751.5 275.8C753.9 276.48 761.1 276.68 763.5 278C765.9 279.32 773.1 287.13 775.5 289C777.9 290.87 786.3 295.93 787.5 296.7" fill="none" stroke="#a9e3e8" stroke-width="1.0" stroke-linejoin="round" stroke-linecap="round"/>
<path d="M-4.5 327.88C-3.3 328.27 5.1 330.92 7.5 331.8C9.9 332.68 17.1 334.63 19.5 336.7C21.9 338.77 29.1 350.42 31.5 352.5C33.9 354.58 41.1 356.5 43.5 357.5C45.9 358.5 53.1 361.58 55.5 362.5C57.9 363.42 65.1 366.85 67.5 366.7C69.9 366.55 77.1 360 79.5 361C81.9 362 89.1 374.55 91.5 376.7C93.9 378.85 101.1 381.59 103.5 382.5C105.9 383.41 113.1 386.15 115.5 385.8C117.9 385.45 125.1 379.41 127.5 379C129.9 378.59 137.1 383.7 139.5 381.7C141.9 379.7 149.1 362.09 151.5 359C153.9 355.91 161.1 353.12 163.5 350.8C165.9 348.48 173.1 338.88 175.5 335.8C177.9 332.72 185.1 324.41 187.5 320C189.9 315.59 197.1 296.95 199.5 291.7C201.9 286.45 209.1 271.17 211.5 267.5C213.9 263.83 221.1 256.92 223.5 255C225.9 253.08 233.1 249.67 235.5 248.3C237.9 246.93 245.1 241 247.5 241.3C249.9 241.6 257.1 250.15 259.5 251.3C261.9 252.45 269.1 252.78 271.5 252.8C273.9 252.82 281.1 252.61 283.5 251.5C285.9 250.39 293.1 243.52 295.5 241.7C297.9 239.88 305.1 234.92 307.5 233.3C309.9 231.68 317.1 226.33 319.5 225.5C321.9 224.67 329.1 224.88 331.5 225C333.9 225.12 341.1 226.37 343.5 226.7C345.9 227.03 353.1 228.64 355.5 228.3C357.9 227.96 365.1 224.38 367.5 223.3C369.9 222.22 377.1 218.36 379.5 217.5C381.9 216.64 389.1 214.2 391.5 214.7C393.9 215.2 401.1 220.14 403.5 222.5C405.9 224.86 413.1 235.15 415.5 238.3C417.9 241.45 425.1 251.25 427.5 254C429.9 256.75 437.1 263.95 439.5 265.8C441.9 267.65 449.1 274.18 451.5 272.5C453.9 270.82 461.1 254.08 463.5 249C465.9 243.92 473.1 227.2 475.5 221.7C477.9 216.2 485.1 199.77 487.5 194C489.9 188.23 497.1 169.32 499.5 164C501.9 158.68 509.1 144.62 511.5 140.8C513.9 136.98 521.1 126.96 523.5 125.8C525.9 124.64 533.1 128.11 535.5 129.2C537.9 130.29 545.1 135.07 547.5 136.7C549.9 138.33 557.1 143.12 559.5 145.5C561.9 147.88 569.1 157.35 571.5 160.5C573.9 163.65 581.1 174.63 583.5 177C585.9 179.37 593.1 182.57 595.5 184.2C597.9 185.83 605.1 190.72 607.5 193.3C609.9 195.88 617.1 206.28 619.5 210C621.9 213.72 629.1 226.25 631.5 230.5C633.9 234.75 641.1 248.13 643.5 252.5C645.9 256.87 653.1 270.37 655.5 274.2C657.9 278.03 665.1 288.44 667.5 290.8C669.9 293.16 677.1 297.83 679.5 297.8C681.9 297.77 689.1 293.08 691.5 290.5C693.9 287.92 701.1 275.42 703.5 272C705.9 268.58 713.1 258.85 715.5 256.3C717.9 253.75 725.1 247.81 727.5 246.5C729.9 245.19 737.1 241.85 739.5 243.2C741.9 244.55 749.1 256.49 751.5 260C753.9 263.51 761.1 272.63 763.5 278.3C765.9 283.97 773.1 309.78 775.5 316.7C777.9 323.62 786.3 344.42 787.5 347.5" fill="none" stroke="#f0a8bf" stroke-width="1.0" stroke-linejoin="round" stroke-linecap="round"/>
</g>
<path d="M5 392H833" stroke="#c4554f" stroke-width="1.15" stroke-dasharray="1.9 1.7" fill="none"/>
<path d="M14 543.5H38" stroke="#bdbdbd" stroke-width="1" stroke-dasharray="3 2" fill="none"/>
<path d="M787 543.5H832" stroke="#c3cfdb" stroke-width="1.5" stroke-dasharray="2.6 3.4" fill="none"/>
<rect x="5" y="542.6" width="7" height="1.2" fill="#c02a20"/>
<path d="M640 543.5H650" stroke="#c4c4c4" stroke-width="1" stroke-dasharray="3 2" fill="none"/>
<rect x="39" y="543.5" width="9" height="3.2" fill="#0ca718"/>
<rect x="51" y="543.5" width="9" height="13.2" fill="#0ca718"/>
<rect x="63" y="543.5" width="9" height="19" fill="#0ca718"/>
<rect x="75" y="543.5" width="9" height="21.2" fill="#0ca718"/>
<rect x="87" y="543.5" width="9" height="29" fill="#0ca718"/>
<rect x="99" y="543.5" width="9" height="24.3" fill="#0ca718"/>
<rect x="111" y="543.5" width="9" height="27.3" fill="#0ca718"/>
<rect x="123" y="543.5" width="9" height="25.2" fill="#0ca718"/>
<rect x="135" y="543.5" width="9" height="24.8" fill="#0ca718"/>
<rect x="147" y="543.5" width="9" height="18.3" fill="#0ca718"/>
<rect x="159" y="543.5" width="9" height="15.2" fill="#0ca718"/>
<rect x="171" y="543.5" width="9" height="12.3" fill="#0ca718"/>
<rect x="183" y="543.5" width="9" height="8.5" fill="#0ca718"/>
<rect x="207" y="543.5" width="9" height="4.5" fill="#0ca718"/>
<rect x="219" y="543.5" width="9" height="10.3" fill="#0ca718"/>
<rect x="231" y="543.5" width="9" height="13.2" fill="#0ca718"/>
<rect x="243" y="543.5" width="9" height="12" fill="#0ca718"/>
<rect x="255" y="543.5" width="9" height="12" fill="#0ca718"/>
<rect x="267" y="543.5" width="9" height="7.3" fill="#0ca718"/>
<rect x="279" y="543.5" width="9" height="8.2" fill="#0ca718"/>
<rect x="291" y="543.5" width="9" height="7" fill="#0ca718"/>
<rect x="303" y="543.5" width="9" height="8.5" fill="#0ca718"/>
<rect x="315" y="543.5" width="9" height="12.3" fill="#0ca718"/>
<rect x="327" y="543.5" width="9" height="13.2" fill="#0ca718"/>
<rect x="339" y="543.5" width="9" height="16.2" fill="#0ca718"/>
<rect x="351" y="543.5" width="9" height="14" fill="#0ca718"/>
<rect x="363" y="543.5" width="9" height="15.2" fill="#0ca718"/>
<rect x="375" y="543.5" width="9" height="23.2" fill="#0ca718"/>
<rect x="387" y="543.5" width="9" height="31" fill="#0ca718"/>
<rect x="399" y="543.5" width="9" height="41.5" fill="#0ca718"/>
<rect x="411" y="543.5" width="9" height="40.2" fill="#0ca718"/>
<rect x="423" y="543.5" width="9" height="34.2" fill="#0ca718"/>
<rect x="435" y="543.5" width="9" height="28.2" fill="#0ca718"/>
<rect x="447" y="543.5" width="9" height="15.7" fill="#0ca718"/>
<rect x="459" y="543.5" width="9" height="3.2" fill="#0ca718"/>
<rect x="471" y="538.3" width="9" height="5.2" fill="#f01a06"/>
<rect x="483" y="531.2" width="9" height="12.3" fill="#f01a06"/>
<rect x="495" y="528.3" width="9" height="15.2" fill="#f01a06"/>
<rect x="507" y="526.3" width="9" height="17.2" fill="#f01a06"/>
<rect x="519" y="526.2" width="9" height="17.3" fill="#f01a06"/>
<rect x="531" y="530" width="9" height="13.5" fill="#f01a06"/>
<rect x="543" y="527.5" width="9" height="16" fill="#f01a06"/>
<rect x="555" y="527.8" width="9" height="15.7" fill="#f01a06"/>
<rect x="567" y="530" width="9" height="13.5" fill="#f01a06"/>
<rect x="579" y="530.3" width="9" height="13.2" fill="#f01a06"/>
<rect x="591" y="532" width="9" height="11.5" fill="#f01a06"/>
<rect x="603" y="536.2" width="9" height="7.3" fill="#f01a06"/>
<rect x="615" y="542.5" width="9" height="1" fill="#f01a06"/>
<rect x="627" y="543.5" width="9" height="1.8" fill="#0ca718"/>
<rect x="651" y="537.2" width="9" height="6.3" fill="#f01a06"/>
<rect x="663" y="531.7" width="9" height="11.8" fill="#f01a06"/>
<rect x="675" y="524.2" width="9" height="19.3" fill="#f01a06"/>
<rect x="687" y="513.5" width="9" height="30" fill="#f01a06"/>
<rect x="699" y="508.8" width="9" height="34.7" fill="#f01a06"/>
<rect x="711" y="508.8" width="9" height="34.7" fill="#f01a06"/>
<rect x="723" y="517" width="9" height="26.5" fill="#f01a06"/>
<rect x="735" y="525.3" width="9" height="18.2" fill="#f01a06"/>
<rect x="747" y="533.3" width="9" height="10.2" fill="#f01a06"/>
<rect x="759" y="537.8" width="9" height="5.7" fill="#f01a06"/>
<path d="M-4.5 573.48C-3.3 573.51 5.1 573.73 7.5 573.8C9.9 573.87 17.1 574.13 19.5 574.2C21.9 574.27 29.1 574.34 31.5 574.5C33.9 574.66 41.1 575.2 43.5 575.8C45.9 576.4 53.1 579.91 55.5 580.5C57.9 581.09 65.1 581.67 67.5 581.7C69.9 581.73 77.1 580.8 79.5 580.8C81.9 580.8 89.1 582.2 91.5 581.7C93.9 581.2 101.1 576.55 103.5 575.8C105.9 575.05 113.1 574.78 115.5 574.2C117.9 573.62 125.1 570.75 127.5 570C129.9 569.25 137.1 567.6 139.5 566.7C141.9 565.8 149.1 562 151.5 561C153.9 560 161.1 557.43 163.5 556.7C165.9 555.97 173.1 554.37 175.5 553.7C177.9 553.03 185.1 550.9 187.5 550C189.9 549.1 197.1 545.17 199.5 544.7C201.9 544.23 209.1 545.02 211.5 545.3C213.9 545.58 221.1 547.2 223.5 547.5C225.9 547.8 233.1 548.3 235.5 548.3C237.9 548.3 245.1 547.75 247.5 547.5C249.9 547.25 257.1 546.47 259.5 545.8C261.9 545.13 269.1 541.32 271.5 540.8C273.9 540.28 281.1 540.8 283.5 540.6C285.9 540.4 293.1 538.94 295.5 538.8C297.9 538.66 305.1 539.11 307.5 539.2C309.9 539.29 317.1 539.74 319.5 539.7C321.9 539.66 329.1 538.94 331.5 538.8C333.9 538.66 341.1 538.65 343.5 538.3C345.9 537.95 353.1 535.71 355.5 535.3C357.9 534.89 365.1 534.1 367.5 534.2C369.9 534.3 377.1 535.97 379.5 536.3C381.9 536.63 389.1 537.26 391.5 537.5C393.9 537.74 401.1 539.45 403.5 538.7C405.9 537.95 413.1 531.54 415.5 530C417.9 528.46 425.1 524.5 427.5 523.3C429.9 522.1 437.1 519.5 439.5 518C441.9 516.5 449.1 510.18 451.5 508.3C453.9 506.42 461.1 500.56 463.5 499.2C465.9 497.84 473.1 495.42 475.5 494.7C477.9 493.98 485.1 492.22 487.5 492C489.9 491.78 497.1 492.4 499.5 492.5C501.9 492.6 509.1 492.67 511.5 493C513.9 493.33 521.1 495.13 523.5 495.8C525.9 496.47 533.1 499.25 535.5 499.7C537.9 500.15 545.1 500.02 547.5 500.3C549.9 500.58 557.1 502 559.5 502.5C561.9 503 569.1 504.8 571.5 505.3C573.9 505.8 581.1 507.03 583.5 507.5C585.9 507.97 593.1 509.42 595.5 510C597.9 510.58 605.1 512.5 607.5 513.3C609.9 514.1 617.1 517.38 619.5 518C621.9 518.62 629.1 519.43 631.5 519.5C633.9 519.57 641.1 519.12 643.5 518.7C645.9 518.28 653.1 515.84 655.5 515.3C657.9 514.76 665.1 513.7 667.5 513.3C669.9 512.9 677.1 511.8 679.5 511.3C681.9 510.8 689.1 508.46 691.5 508.3C693.9 508.14 701.1 509.13 703.5 509.7C705.9 510.27 713.1 512.72 715.5 514C717.9 515.28 725.1 520.9 727.5 522.5C729.9 524.1 737.1 528.62 739.5 530C741.9 531.38 749.1 535.33 751.5 536.3C753.9 537.27 761.1 538.98 763.5 539.7C765.9 540.42 773.1 543.12 775.5 543.5C777.9 543.88 786.3 543.5 787.5 543.5" fill="none" stroke="#5b9bd0" stroke-width="1.0" stroke-linejoin="round" stroke-linecap="round"/>
<path d="M-4.5 573.48C-3.3 573.51 5.1 573.73 7.5 573.8C9.9 573.87 17.1 574.13 19.5 574.2C21.9 574.27 29.1 574.47 31.5 574.5C33.9 574.53 41.1 574.57 43.5 574.5C45.9 574.43 53.1 574 55.5 573.8C57.9 573.6 65.1 572.88 67.5 572.5C69.9 572.12 77.1 570.58 79.5 570C81.9 569.42 89.1 567.37 91.5 566.7C93.9 566.03 101.1 563.94 103.5 563.3C105.9 562.66 113.1 560.93 115.5 560.3C117.9 559.67 125.1 557.66 127.5 557C129.9 556.34 137.1 554.27 139.5 553.7C141.9 553.13 149.1 551.75 151.5 551.3C153.9 550.85 161.1 549.58 163.5 549.2C165.9 548.82 173.1 547.84 175.5 547.5C177.9 547.16 185.1 546.08 187.5 545.8C189.9 545.52 197.1 544.91 199.5 544.7C201.9 544.49 209.1 543.92 211.5 543.7C213.9 543.48 221.1 542.74 223.5 542.5C225.9 542.26 233.1 541.55 235.5 541.3C237.9 541.05 245.1 540.26 247.5 540C249.9 539.74 257.1 538.95 259.5 538.7C261.9 538.45 269.1 537.72 271.5 537.5C273.9 537.28 281.1 536.73 283.5 536.5C285.9 536.27 293.1 535.4 295.5 535.2C297.9 535 305.1 534.72 307.5 534.5C309.9 534.28 317.1 533.28 319.5 533C321.9 532.72 329.1 531.97 331.5 531.7C333.9 531.43 341.1 530.64 343.5 530.3C345.9 529.96 353.1 528.66 355.5 528.3C357.9 527.94 365.1 527.06 367.5 526.7C369.9 526.34 377.1 525.2 379.5 524.7C381.9 524.2 389.1 522.42 391.5 521.7C393.9 520.98 401.1 518.42 403.5 517.5C405.9 516.58 413.1 513.48 415.5 512.5C417.9 511.52 425.1 508.57 427.5 507.7C429.9 506.83 437.1 504.54 439.5 503.8C441.9 503.06 449.1 500.88 451.5 500.3C453.9 499.72 461.1 498.31 463.5 498C465.9 497.69 473.1 497.2 475.5 497.2C477.9 497.2 485.1 497.72 487.5 498C489.9 498.28 497.1 499.6 499.5 500C501.9 500.4 509.1 501.53 511.5 502C513.9 502.47 521.1 504.23 523.5 504.7C525.9 505.17 533.1 506.3 535.5 506.7C537.9 507.1 545.1 508.29 547.5 508.7C549.9 509.11 557.1 510.34 559.5 510.8C561.9 511.26 569.1 512.88 571.5 513.3C573.9 513.72 581.1 514.66 583.5 515C585.9 515.34 593.1 516.4 595.5 516.7C597.9 517 605.1 517.79 607.5 518C609.9 518.21 617.1 518.67 619.5 518.8C621.9 518.93 629.1 519.3 631.5 519.3C633.9 519.3 641.1 518.86 643.5 518.8C645.9 518.74 653.1 518.61 655.5 518.7C657.9 518.79 665.1 519.44 667.5 519.7C669.9 519.96 677.1 520.87 679.5 521.3C681.9 521.73 689.1 523.38 691.5 524C693.9 524.62 701.1 526.8 703.5 527.5C705.9 528.2 713.1 530.17 715.5 531C717.9 531.83 725.1 534.98 727.5 535.8C729.9 536.62 737.1 538.65 739.5 539.2C741.9 539.75 749.1 540.92 751.5 541.3C753.9 541.68 761.1 542.78 763.5 543C765.9 543.22 773.1 543.45 775.5 543.5C777.9 543.55 786.3 543.5 787.5 543.5" fill="none" stroke="#f08a3c" stroke-width="1.0" stroke-linejoin="round" stroke-linecap="round"/>
<path d="M771 543.5H787.5" stroke="#a9a08f" stroke-width="1.1" fill="none"/>
</g>
<rect x="5" y="466.05" width="898.5" height="1.25" fill="#141414"/>
<rect x="5" y="595.85" width="898.5" height="1.25" fill="#141414"/>
<rect x="833.05" y="38" width="1.05" height="562" fill="#222222"/>
<rect x="834" y="64" width="3.6" height="1" fill="#222"/>
<text x="840.4" y="68.9" font-size="13" fill="#222222" textLength="36.2" lengthAdjust="spacingAndGlyphs">1.3825</text>
<rect x="834" y="120" width="3.6" height="1" fill="#222"/>
<text x="840.4" y="124.9" font-size="13" fill="#222222" textLength="36.2" lengthAdjust="spacingAndGlyphs">1.3727</text>
<rect x="834" y="176" width="3.6" height="1" fill="#222"/>
<text x="840.4" y="180.9" font-size="13" fill="#222222" textLength="36.2" lengthAdjust="spacingAndGlyphs">1.3628</text>
<rect x="834" y="232" width="3.6" height="1" fill="#222"/>
<text x="840.4" y="236.9" font-size="13" fill="#222222" textLength="36.2" lengthAdjust="spacingAndGlyphs">1.3529</text>
<rect x="834" y="288" width="3.6" height="1" fill="#222"/>
<text x="840.4" y="292.9" font-size="13" fill="#222222" textLength="36.2" lengthAdjust="spacingAndGlyphs">1.3430</text>
<rect x="834" y="344" width="3.6" height="1" fill="#222"/>
<text x="840.4" y="348.9" font-size="13" fill="#222222" textLength="36.2" lengthAdjust="spacingAndGlyphs">1.3332</text>
<rect x="834" y="400" width="3.6" height="1" fill="#222"/>
<text x="840.4" y="404.9" font-size="13" fill="#222222" textLength="36.2" lengthAdjust="spacingAndGlyphs">1.3233</text>
<rect x="834" y="456" width="3.6" height="1" fill="#222"/>
<text x="840.4" y="460.9" font-size="13" fill="#222222" textLength="36.2" lengthAdjust="spacingAndGlyphs">1.3134</text>
<rect x="834" y="474" width="3.6" height="1" fill="#222"/>
<text x="840.4" y="478.9" font-size="13" fill="#222222" textLength="36.2" lengthAdjust="spacingAndGlyphs">0.0135</text>
<rect x="834" y="530" width="3.6" height="1" fill="#222"/>
<text x="840.4" y="534.9" font-size="13" fill="#222222" textLength="36.2" lengthAdjust="spacingAndGlyphs">0.0027</text>
<rect x="834" y="586" width="3.6" height="1" fill="#222"/>
<text x="840.4" y="590.9" font-size="13" fill="#222222" textLength="40.6" lengthAdjust="spacingAndGlyphs">-0.0081</text>
<text x="841.5" y="607.6" font-size="13" fill="#222222" textLength="48.5" lengthAdjust="spacingAndGlyphs">100.4617</text>
<rect x="834.5" y="383.3" width="68.5" height="17.4" fill="#ee1b08"/>
<rect x="834.5" y="391.5" width="4" height="1" fill="#fff"/>
<text x="841" y="396.6" font-size="13" fill="#ffffff" textLength="37" lengthAdjust="spacingAndGlyphs">1.3247</text>
<text x="14.3" y="58.8" font-size="13.8" fill="#222222">开</text>
<text x="27.5" y="59" font-size="14" fill="#222222">:</text>
<text x="34.2" y="59" font-size="14" fill="#c44f48" textLength="40" lengthAdjust="spacingAndGlyphs">1.3235</text>
<text x="86.5" y="58.8" font-size="13.8" fill="#222222">高</text>
<text x="99.7" y="59" font-size="14" fill="#222222">:</text>
<text x="104.9" y="59" font-size="14" fill="#c44f48" textLength="40" lengthAdjust="spacingAndGlyphs">1.3258</text>
<text x="157.7" y="58.8" font-size="13.8" fill="#222222">低</text>
<text x="170.9" y="59" font-size="14" fill="#222222">:</text>
<text x="176.7" y="59" font-size="14" fill="#c44f48" textLength="40" lengthAdjust="spacingAndGlyphs">1.3229</text>
<text x="229.5" y="58.8" font-size="13.8" fill="#222222">收</text>
<text x="242.7" y="59" font-size="14" fill="#222222">:</text>
<text x="248.3" y="59" font-size="14" fill="#c44f48" textLength="40" lengthAdjust="spacingAndGlyphs">1.3247</text>
<text x="15.2" y="76.8" font-size="14" fill="#dc6a96" textLength="33.3" lengthAdjust="spacingAndGlyphs">MA5:</text>
<text x="54.5" y="76.8" font-size="14" fill="#dc6a96" textLength="40.3" lengthAdjust="spacingAndGlyphs">1.3324</text>
<text x="107.2" y="76.8" font-size="14" fill="#4fc0c8" textLength="40.3" lengthAdjust="spacingAndGlyphs">MA10:</text>
<text x="153" y="76.8" font-size="14" fill="#4fc0c8" textLength="40.3" lengthAdjust="spacingAndGlyphs">1.3414</text>
<text x="206.3" y="76.8" font-size="14" fill="#aa74c2" textLength="41" lengthAdjust="spacingAndGlyphs">MA20:</text>
<text x="252.5" y="76.8" font-size="14" fill="#aa74c2" textLength="40.3" lengthAdjust="spacingAndGlyphs">1.3463</text>
<text x="15.3" y="482.2" font-size="13" fill="#d24a42" textLength="40.5" lengthAdjust="spacingAndGlyphs">MACD:</text>
<text x="57.5" y="482.2" font-size="13" fill="#d24a42" textLength="37.5" lengthAdjust="spacingAndGlyphs">0.0000</text>
<text x="107.9" y="482.2" font-size="13" fill="#5b9bd0" textLength="27.2" lengthAdjust="spacingAndGlyphs">DIFF:</text>
<text x="137.9" y="482.2" font-size="13" fill="#5b9bd0" textLength="37.2" lengthAdjust="spacingAndGlyphs">0.0000</text>
<text x="188.2" y="482.2" font-size="13" fill="#e08a4a" textLength="25.8" lengthAdjust="spacingAndGlyphs">DEA:</text>
<text x="217.4" y="482.2" font-size="13" fill="#e08a4a" textLength="37" lengthAdjust="spacingAndGlyphs">0.0000</text>
</svg>
</body></html>
